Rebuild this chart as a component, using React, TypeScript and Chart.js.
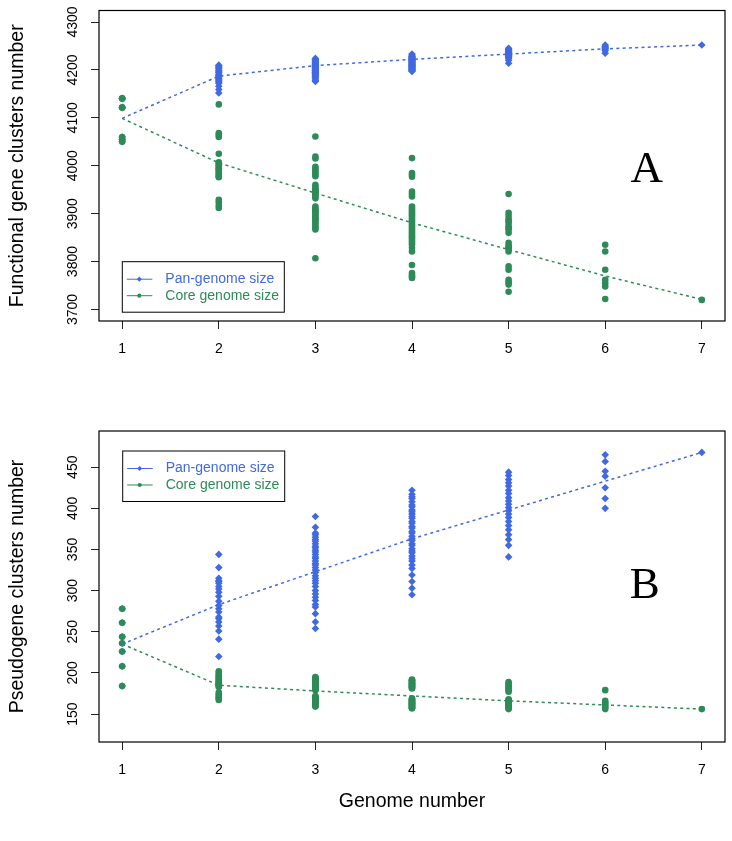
import React, { useEffect, useRef } from "react";
import { Chart, registerables } from "chart.js";

Chart.register(...registerables);

// ---------------- data ----------------
const genomeNumbers = [1, 2, 3, 4, 5, 6, 7];
const xTickValues = [1, 2, 3, 4, 5, 6, 7];
const legendLabels = ["Pan-genome size", "Core genome size"];

// Panel A: functional gene clusters
const funcYTicks = [3700, 3800, 3900, 4000, 4100, 4200, 4300];
const funcPanValues: number[][] = [
  [4141, 4140, 4122, 4121, 4060, 4055, 4050],
  [4210, 4208, 4206, 4204, 4202, 4199, 4196, 4194, 4191, 4189, 4187, 4185, 4183, 4181, 4179, 4177, 4175, 4172, 4166, 4159, 4152],
  [4224, 4222, 4221, 4219, 4218, 4216, 4215, 4213, 4212, 4211, 4210, 4209, 4208, 4207, 4206, 4205, 4204, 4203, 4201, 4200,
   4199, 4198, 4196, 4195, 4194, 4193, 4192, 4190, 4189, 4187, 4186, 4183, 4181, 4178, 4176],
  [4233, 4231, 4229, 4228, 4227, 4226, 4225, 4224, 4223, 4222, 4221, 4220, 4219, 4218, 4217, 4216, 4215, 4214, 4213, 4212,
   4211, 4210, 4209, 4208, 4207, 4206, 4205, 4204, 4203, 4202, 4201, 4200, 4199, 4198, 4197],
  [4245, 4243, 4242, 4241, 4240, 4239, 4238, 4237, 4236, 4235, 4234, 4233, 4232, 4231, 4230, 4229, 4228, 4226, 4224, 4220, 4214],
  [4252, 4249, 4247, 4245, 4243, 4240, 4235],
  [4252],
];
const funcCoreValues: number[][] = [
  [4141, 4140, 4122, 4121, 4060, 4055, 4050],
  [4128, 4068, 4064, 4060, 4025, 4007, 4004, 4001, 3998, 3995, 3993, 3990, 3987, 3984, 3981, 3978, 3976, 3929, 3924, 3917, 3912],
  [4061, 4019, 4015, 3998, 3994, 3990, 3986, 3982, 3978, 3960, 3956, 3952, 3950, 3948, 3945, 3944, 3940, 3936, 3932, 3915,
   3911, 3907, 3905, 3903, 3899, 3895, 3891, 3890, 3887, 3883, 3879, 3875, 3871, 3867, 3807],
  [4016, 3985, 3981, 3977, 3946, 3941, 3936, 3915, 3911, 3907, 3903, 3899, 3895, 3891, 3887, 3883, 3879, 3875, 3871, 3867,
   3863, 3859, 3855, 3851, 3847, 3843, 3839, 3835, 3829, 3821, 3793, 3776, 3772, 3769, 3766],
  [3941, 3902, 3895, 3888, 3885, 3881, 3874, 3870, 3867, 3860, 3839, 3833, 3830, 3827, 3821, 3790, 3783, 3762, 3757, 3752, 3737],
  [3835, 3821, 3783, 3762, 3755, 3748, 3722],
  [3720],
];
const funcPanCurve = [4099, 4187, 4209, 4222, 4233, 4244, 4252];
const funcCoreCurve = [4099, 4006, 3943, 3881, 3825, 3770, 3721];

// Panel B: pseudogene clusters
const pseudoYTicks = [150, 200, 250, 300, 350, 400, 450];
const pseudoPanValues: number[][] = [
  [278, 261, 244, 236, 226, 208, 184],
  [344, 328, 315, 312, 311, 309, 305, 302, 298, 293, 287, 282, 278, 274, 268, 266, 262, 257, 251, 241, 220],
  [390, 377, 370, 368, 365, 362, 360, 357, 354, 352, 349, 347, 344, 341, 339, 336, 333, 331, 328, 325,
   322, 318, 315, 312, 309, 305, 300, 296, 292, 288, 283, 280, 272, 262, 254],
  [422, 417, 414, 412, 408, 404, 402, 398, 396, 393, 390, 388, 384, 382, 378, 376, 372, 370, 366, 363,
   361, 357, 355, 351, 348, 346, 342, 339, 336, 331, 327, 319, 311, 303, 295],
  [444, 440, 435, 431, 427, 422, 418, 413, 409, 405, 401, 397, 393, 389, 384, 379, 374, 368, 362, 355, 341],
  [465, 457, 445, 439, 425, 412, 400],
  [468],
];
const pseudoCoreValues: number[][] = [
  [278, 261, 244, 236, 226, 208, 184],
  [202, 200, 198, 196, 195, 193, 192, 190, 189, 188, 187, 186, 185, 184, 183, 176, 174, 172, 170, 169, 167],
  [195, 194, 193, 192, 191, 190, 190, 189, 188, 187, 186, 186, 185, 184, 183, 182, 181, 180, 179, 172,
   171, 170, 170, 169, 168, 167, 166, 165, 165, 164, 163, 162, 161, 160, 159],
  [192, 191, 191, 190, 189, 188, 187, 187, 186, 185, 184, 184, 183, 182, 182, 181, 169, 168, 167, 167,
   166, 165, 165, 164, 163, 163, 162, 161, 161, 160, 159, 158, 158, 157, 157],
  [189, 187, 185, 183, 181, 179, 177, 168, 167, 166, 165, 164, 163, 162, 161, 160, 159, 158, 157, 156, 165],
  [179, 166, 164, 162, 160, 158, 156],
  [156],
];
const pseudoPanCurve = [235, 283, 323, 363, 398, 433, 468];
const pseudoCoreCurve = [235, 185, 178, 172, 166, 161, 156];

// ---------------- styling ----------------
const PAN_COLOR = "#4169E1";
const CORE_COLOR = "#2E8B57";
const SANS = '"Liberation Sans", Arial, Helvetica, sans-serif';
const SERIF = '"Liberation Serif", "Times New Roman", serif';

Chart.defaults.font.family = SANS;

function toPoints(groups: number[][]) {
  return groups.flatMap((vals, i) => vals.map((v) => ({ x: genomeNumbers[i], y: v })));
}
function toCurve(vals: number[]) {
  return vals.map((v, i) => ({ x: genomeNumbers[i], y: v }));
}

const plotBoxPlugin = {
  id: "plotBox",
  afterDraw(chart: any) {
    const { ctx, chartArea: a } = chart;
    ctx.save();
    ctx.strokeStyle = "#000";
    ctx.lineWidth = 1.2;
    ctx.strokeRect(a.left, a.top, a.right - a.left, a.bottom - a.top);
    ctx.restore();
  },
};

const rLegendPlugin = {
  id: "rLegend",
  afterDatasetsDraw(chart: any, _args: any, opts: any) {
    const { ctx, chartArea: a } = chart;
    const x0 = a.left + opts.left;
    const y0 = a.top + opts.top;
    const w = 162;
    const h = 50.5;
    ctx.save();
    ctx.fillStyle = "#fff";
    ctx.fillRect(x0, y0, w, h);
    ctx.strokeStyle = "#000";
    ctx.lineWidth = 1;
    ctx.strokeRect(x0, y0, w, h);
    const items = [
      { label: legendLabels[0], color: PAN_COLOR, style: "diamond" },
      { label: legendLabels[1], color: CORE_COLOR, style: "circle" },
    ];
    const rows = [17.5, 34];
    items.forEach((it, i) => {
      const y = y0 + rows[i];
      ctx.strokeStyle = it.color;
      ctx.lineWidth = 1;
      ctx.beginPath();
      ctx.moveTo(x0 + 4.5, y);
      ctx.lineTo(x0 + 30, y);
      ctx.stroke();
      const mx = x0 + 17;
      ctx.fillStyle = it.color;
      ctx.beginPath();
      if (it.style === "diamond") {
        const r = 2.6;
        ctx.moveTo(mx, y - r);
        ctx.lineTo(mx + r, y);
        ctx.lineTo(mx, y + r);
        ctx.lineTo(mx - r, y);
        ctx.closePath();
      } else {
        ctx.arc(mx, y, 2.1, 0, Math.PI * 2);
      }
      ctx.fill();
      ctx.font = `14px ${SANS}`;
      ctx.textBaseline = "middle";
      ctx.textAlign = "left";
      ctx.fillText(it.label, x0 + 43, y);
    });
    ctx.restore();
  },
};

const panelLetterPlugin = {
  id: "panelLetter",
  afterDatasetsDraw(chart: any, _args: any, opts: any) {
    const { ctx, scales } = chart;
    ctx.save();
    ctx.font = `45px ${SERIF}`;
    ctx.fillStyle = "#000";
    ctx.textAlign = "center";
    ctx.textBaseline = "alphabetic";
    ctx.fillText(opts.text, scales.x.getPixelForValue(opts.x), scales.y.getPixelForValue(opts.y));
    ctx.restore();
  },
};

interface PanelSpec {
  canvasHeight: number;
  paddingTop: number;
  xAxisHeight: number;
  yTitle: string;
  yMin: number;
  yMax: number;
  yTicks: number[];
  yTickPadding: number;
  pan: number[][];
  core: number[][];
  panCurve: number[];
  coreCurve: number[];
  letter: string;
  letterX: number;
  letterY: number;
  legendLeft: number;
  legendTop: number;
  xTitle?: string;
}

const topSpec: PanelSpec = {
  canvasHeight: 390,
  paddingTop: 10.5,
  xAxisHeight: 69,
  yTitle: "Functional gene clusters number",
  yMin: 3676,
  yMax: 4324,
  yTicks: funcYTicks,
  yTickPadding: 2.4,
  pan: funcPanValues,
  core: funcCoreValues,
  panCurve: funcPanCurve,
  coreCurve: funcCoreCurve,
  letter: "A",
  letterX: 6.43,
  letterY: 3967,
  legendLeft: 23.3,
  legendTop: 251.2,
};

const bottomSpec: PanelSpec = {
  canvasHeight: 451,
  paddingTop: 41,
  xAxisHeight: 99,
  yTitle: "Pseudogene clusters number",
  yMin: 116,
  yMax: 494,
  yTicks: pseudoYTicks,
  yTickPadding: 6.3,
  pan: pseudoPanValues,
  core: pseudoCoreValues,
  panCurve: pseudoPanCurve,
  coreCurve: pseudoCoreCurve,
  letter: "B",
  letterX: 6.41,
  letterY: 291,
  legendLeft: 23.7,
  legendTop: 20,
  xTitle: "Genome number",
};

function buildConfig(spec: PanelSpec): any {
  return {
    type: "scatter",
    data: {
      datasets: [
        {
          label: "pan curve",
          data: toCurve(spec.panCurve),
          showLine: true,
          borderColor: PAN_COLOR,
          borderWidth: 1.5,
          borderDash: [3, 3.3],
          pointRadius: 0,
          tension: 0,
          fill: false,
          order: 0,
        },
        {
          label: "core curve",
          data: toCurve(spec.coreCurve),
          showLine: true,
          borderColor: CORE_COLOR,
          borderWidth: 1.5,
          borderDash: [3, 3.3],
          pointRadius: 0,
          tension: 0,
          fill: false,
          order: 0,
        },
        {
          label: legendLabels[1],
          data: toPoints(spec.core),
          pointStyle: "circle",
          pointRadius: 3.3,
          pointBackgroundColor: CORE_COLOR,
          backgroundColor: CORE_COLOR,
          pointBorderWidth: 0,
          borderWidth: 0,
          order: 1,
        },
        {
          label: legendLabels[0],
          data: toPoints(spec.pan),
          pointStyle: "rectRot",
          pointRadius: 3.8,
          pointBackgroundColor: PAN_COLOR,
          backgroundColor: PAN_COLOR,
          pointBorderWidth: 0,
          borderWidth: 0,
          order: 2,
        },
      ],
    },
    options: {
      animation: false,
      responsive: false,
      maintainAspectRatio: false,
      events: [],
      layout: { padding: { top: spec.paddingTop, right: 7, bottom: 0, left: 0 } },
      plugins: {
        legend: { display: false },
        tooltip: { enabled: false },
        rLegend: { left: spec.legendLeft, top: spec.legendTop },
        panelLetter: { text: spec.letter, x: spec.letterX, y: spec.letterY },
      },
      scales: {
        x: {
          type: "linear",
          position: "bottom",
          min: 0.76,
          max: 7.24,
          afterBuildTicks: (s: any) => {
            s.ticks = xTickValues.map((v) => ({ value: v }));
          },
          afterFit: (s: any) => {
            s.height = spec.xAxisHeight;
            s.paddingLeft = 0;
            s.paddingRight = 0;
          },
          grid: { drawOnChartArea: false, drawTicks: true, tickLength: 8, tickColor: "#222", tickWidth: 1 },
          border: { display: false },
          ticks: {
            color: "#000",
            font: { size: 14, family: SANS },
            padding: 11.6,
            maxRotation: 0,
            autoSkip: false,
            callback: (v: any) => String(v),
          },
          title: spec.xTitle
            ? {
                display: true,
                text: spec.xTitle,
                color: "#000",
                font: { size: 19.5, family: SANS },
                padding: { top: 0, bottom: 27.3 },
              }
            : { display: false },
        },
        y: {
          type: "linear",
          position: "left",
          min: spec.yMin,
          max: spec.yMax,
          afterBuildTicks: (s: any) => {
            s.ticks = spec.yTicks.map((v) => ({ value: v }));
          },
          afterFit: (s: any) => {
            s.width = 99;
            s.paddingTop = 0;
            s.paddingBottom = 0;
          },
          grid: { drawOnChartArea: false, drawTicks: true, tickLength: 8, tickColor: "#222", tickWidth: 1 },
          border: { display: false },
          ticks: {
            color: "#000",
            font: { size: 14, family: SANS },
            minRotation: 90,
            maxRotation: 90,
            crossAlign: "center",
            padding: spec.yTickPadding,
            autoSkip: false,
            callback: (v: any) => String(v),
          },
          title: {
            display: true,
            text: spec.yTitle,
            color: "#000",
            font: { size: 19.5, family: SANS },
            padding: { top: 6.3, bottom: 0 },
          },
        },
      },
    },
    plugins: [plotBoxPlugin, rLegendPlugin, panelLetterPlugin],
  };
}

function Panel({ spec }: { spec: PanelSpec }) {
  const ref = useRef<HTMLCanvasElement>(null);
  useEffect(() => {
    if (!ref.current) return;
    const chart = new Chart(ref.current, buildConfig(spec));
    return () => chart.destroy();
  }, [spec]);
  return (
    <canvas
      ref={ref}
      width={732}
      height={spec.canvasHeight}
      style={{ display: "block", width: 732, height: spec.canvasHeight }}
    />
  );
}

export default function App() {
  return (
    <div style={{ position: "absolute", left: 0, top: 0, width: 732, height: 841, background: "#fff" }}>
      <Panel spec={topSpec} />
      <Panel spec={bottomSpec} />
    </div>
  );
}
